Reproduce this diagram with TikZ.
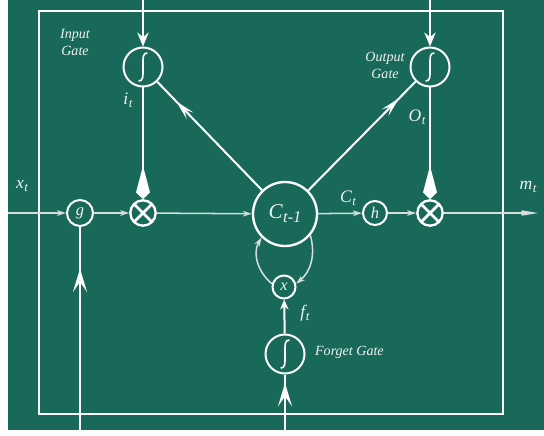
\documentclass[tikz,border=0pt]{standalone}
\usepackage{fontspec}
\setmainfont{Liberation Serif}
\usetikzlibrary{arrows.meta,decorations.markings}
\definecolor{LSTMGreen}{HTML}{19695B}
\definecolor{LSTMLine}{HTML}{D6DEDC}
\definecolor{LSTMText}{HTML}{EEF2F1}
\newcommand{\varsub}[2]{#1\kern.5pt\raisebox{-.4ex}{\fontsize{11}{11}\selectfont #2}}

\begin{document}
\begin{tikzpicture}[x=0.03cm,y=0.03cm,
  every node/.style={text=LSTMText,font=\itshape},
  tipbig/.tip={Kite[length=1.0cm,width=0.42cm,inset=0.8cm]},
  tiptop/.tip={Stealth[length=0.42cm,width=0.34cm,inset=0.14cm]},
  tipdiag/.tip={Stealth[length=0.6cm,width=0.28cm,inset=0.25cm]},
  tipsmall/.tip={Stealth[length=0.27cm,width=0.17cm,inset=0.08cm]},
  tipend/.tip={Stealth[length=0.72cm,width=0.24cm,inset=0.32cm]},
  tipup/.tip={Stealth[length=0.7cm,width=0.42cm,inset=0.3cm]},
  tipfx/.tip={Stealth[length=0.3cm,width=0.25cm,inset=0.1cm]},
  wire/.style={white,line width=1.7pt},
  flow/.style={LSTMLine,line width=1.3pt},
  markat/.style 2 args={postaction={decorate},decoration={markings,mark=at position #1 with {\arrow{#2}}}},
  ring/.style={circle,draw=white,line width=1.7pt,inner sep=0pt},
  sigm/.style={ring,minimum size=1.17cm,path picture={
    \draw[white,line width=1.4pt] ([shift={(-0.13cm,-0.42cm)}]path picture bounding box.center)
      .. controls +(0.14cm,0) and +(0,-0.3cm) .. (path picture bounding box.center)
      .. controls +(0,0.3cm) and +(-0.14cm,0) .. ([shift={(0.13cm,0.42cm)}]path picture bounding box.center);}},
  prod/.style={ring,line width=2pt,minimum size=0.76cm,path picture={
    \draw[white,line width=2.4pt] ([shift={(-0.3cm,-0.3cm)}]path picture bounding box.center) -- ([shift={(0.3cm,0.3cm)}]path picture bounding box.center)
      ([shift={(-0.3cm,0.3cm)}]path picture bounding box.center) -- ([shift={(0.3cm,-0.3cm)}]path picture bounding box.center);}},
  gatelbl/.style={font=\itshape\fontsize{12}{14.5}\selectfont,align=center},
  varlbl/.style={font=\itshape\fontsize{15}{17}\selectfont}]
\path[use as bounding box] (0,0) rectangle (544,435);
\fill[white] (0,0) rectangle (544,435);
\fill[LSTMGreen] (8,5) rectangle (544,435);
\draw[white,line width=1.7pt] (39,21) rectangle (503,424);

\node[sigm] (inS) at (143,368) {};
\node[sigm] (outS) at (430,368) {};
\node[sigm] (fgS) at (285,81) {};
\node[ring,minimum size=0.78cm,font=\itshape\fontsize{14}{14}\selectfont] (g) at (80,222) {g};
\node[prod] (m1) at (143,222) {};
\node[ring,line width=2pt,minimum size=1.92cm] (cell) at (285,221) {\fontsize{18}{20}\selectfont C\kern.5pt\raisebox{-.4ex}{\fontsize{14}{14}\selectfont t-1}};
\node[ring,minimum size=0.72cm,font=\itshape\fontsize{14}{14}\selectfont] (h) at (375,222) {h};
\node[prod] (m2) at (430,222) {};
\node[ring,minimum size=0.69cm,font=\itshape\fontsize{14}{14}\selectfont] (fx) at (284,148) {x};

\coordinate (inTop) at (143,435);
\coordinate (outTop) at (430,435);
\coordinate (xIn) at (8,222);
\coordinate (mOut) at (538,222);
\coordinate (gIn) at (80,0);
\coordinate (fIn) at (285,0);

\draw[wire,-{tiptop}] (inTop) -- (inS);
\draw[wire,-{tiptop}] (outTop) -- (outS);
\draw[wire,-{tipbig}] (inS) -- (m1);
\draw[wire,-{tipbig}] (outS) -- (m2);
\draw[wire,markat={0.82}{tipdiag}] (cell) -- (inS);
\draw[wire,markat={0.85}{tipdiag}] (cell) -- (outS);
\draw[flow,-{tipsmall}] (xIn) -- (g);
\draw[flow,-{tipsmall}] (g) -- (m1);
\draw[flow,-{tipsmall}] (m1) -- (cell);
\draw[flow,-{tipsmall}] (cell) -- (h);
\draw[flow,-{tipsmall}] (h) -- (m2);
\draw[flow,-{tipend}] (m2) -- (mOut);
\draw[wire,markat={0.8}{tipup}] (gIn) -- (g);
\draw[wire,markat={0.86}{tipup}] (fIn) -- (fgS);
\draw[wire,-{tipfx}] (fgS) -- (fx);
\draw[flow,-{tipsmall}] (cell.-40) to[out=-75,in=40] (fx.15);
\draw[flow,-{tipsmall}] (fx.165) to[out=140,in=-120] (cell.-135);

\node[gatelbl] (inLbl) at (75,393) {Input\\Gate};
\node[gatelbl] (outLbl) at (385,370) {Output\\Gate};
\node[gatelbl,anchor=west] (fgLbl) at (311,83) {Forget Gate};
\node[varlbl] (itLbl) at (128,335) {\varsub{i}{t}};
\node[varlbl] (xtLbl) at (22,249) {\varsub{x}{t}};
\node[varlbl] (otLbl) at (417,318) {\varsub{O}{t}};
\node[varlbl] (mtLbl) at (528,248) {\varsub{m}{t}};
\node[varlbl] (ctLbl) at (348,237) {\varsub{C}{t}};
\node[varlbl] (ftLbl) at (305,122) {\varsub{f}{t}};
\end{tikzpicture}
\end{document}
